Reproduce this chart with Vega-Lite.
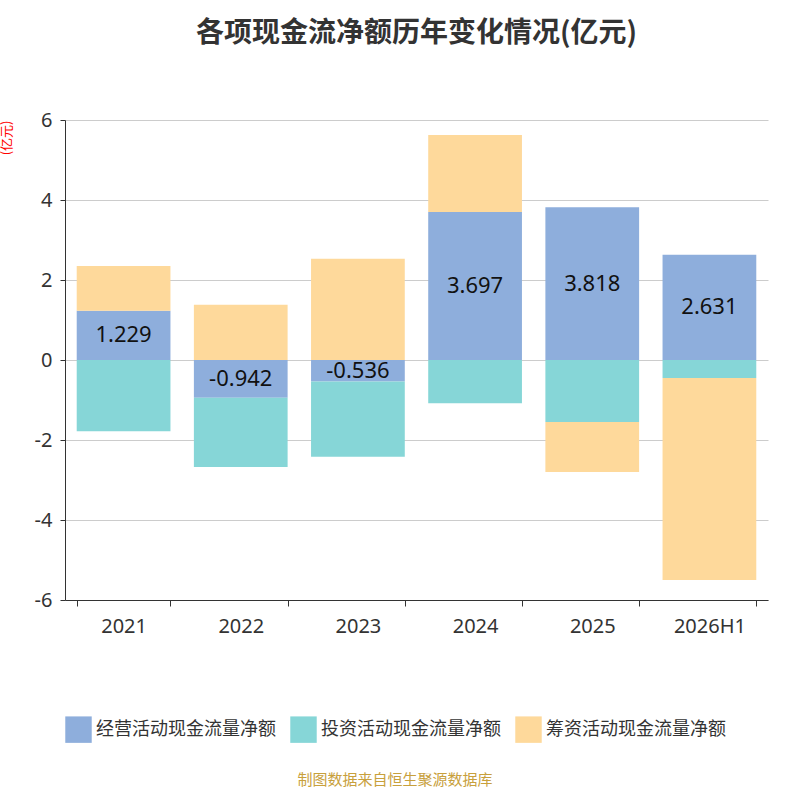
{
  "$schema": "https://vega.github.io/schema/vega-lite/v6.json",
  "autosize": "none",
  "width": 703,
  "height": 480,
  "padding": {"left": 65, "top": 120, "right": 32, "bottom": 200},
  "background": "white",
  "title": {"text": "各项现金流净额历年变化情况(亿元)", "fontSize": 28, "font": "Noto Sans CJK SC", "fontWeight": "bold", "color": "#333", "offset": 62, "anchor": "middle"},
  "config": {"font": "Noto Sans", "view": {"stroke": null}},
  "data": {"values": [
    {"year": "2021", "type": "经营活动现金流量净额", "o": 0, "value": 1.229},
    {"year": "2021", "type": "投资活动现金流量净额", "o": 1, "value": -1.78},
    {"year": "2021", "type": "筹资活动现金流量净额", "o": 2, "value": 1.12},
    {"year": "2022", "type": "经营活动现金流量净额", "o": 0, "value": -0.942},
    {"year": "2022", "type": "投资活动现金流量净额", "o": 1, "value": -1.73},
    {"year": "2022", "type": "筹资活动现金流量净额", "o": 2, "value": 1.38},
    {"year": "2023", "type": "经营活动现金流量净额", "o": 0, "value": -0.536},
    {"year": "2023", "type": "投资活动现金流量净额", "o": 1, "value": -1.88},
    {"year": "2023", "type": "筹资活动现金流量净额", "o": 2, "value": 2.53},
    {"year": "2024", "type": "经营活动现金流量净额", "o": 0, "value": 3.697},
    {"year": "2024", "type": "投资活动现金流量净额", "o": 1, "value": -1.08},
    {"year": "2024", "type": "筹资活动现金流量净额", "o": 2, "value": 1.93},
    {"year": "2025", "type": "经营活动现金流量净额", "o": 0, "value": 3.818},
    {"year": "2025", "type": "投资活动现金流量净额", "o": 1, "value": -1.55},
    {"year": "2025", "type": "筹资活动现金流量净额", "o": 2, "value": -1.25},
    {"year": "2026H1", "type": "经营活动现金流量净额", "o": 0, "value": 2.631},
    {"year": "2026H1", "type": "投资活动现金流量净额", "o": 1, "value": -0.45},
    {"year": "2026H1", "type": "筹资活动现金流量净额", "o": 2, "value": -5.05}
  ]},
  "encoding": {
    "x": {"field": "year", "type": "nominal", "sort": null, "scale": {"paddingInner": 0.2, "paddingOuter": 0.1},
      "axis": {"title": null, "labelAngle": 0, "labelFontSize": 20, "labelColor": "#333", "labelPadding": 10, "domainColor": "#333", "tickColor": "#333", "tickBand": "extent", "tickSize": 6}}
  },
  "layer": [
    {
      "mark": {"type": "bar"},
      "encoding": {
        "y": {"field": "value", "type": "quantitative", "stack": "zero",
          "scale": {"domain": [-6, 6]},
          "axis": {"values": [-6, -4, -2, 0, 2, 4, 6], "format": "d", "labelExpr": "replace(datum.label, '−', '-')", "labelFontSize": 20, "labelColor": "#333", "gridColor": "#ccc", "domainColor": "#333", "tickColor": "#333", "labelPadding": 8,
            "title": "(亿元)", "titleColor": "red", "titleFontSize": 13, "titleFontWeight": "normal", "titleAnchor": "end", "titleX": -52, "titleY": 0, "titleFont": "Noto Sans CJK SC"}},
        "order": {"field": "o"},
        "color": {"field": "type", "type": "nominal",
          "scale": {"domain": ["经营活动现金流量净额", "投资活动现金流量净额", "筹资活动现金流量净额"], "range": ["#8eaedc", "#86d6d7", "#fed99b"]},
          "legend": {"orient": "bottom", "direction": "horizontal", "title": "制图数据来自恒生聚源数据库", "titleOrient": "bottom", "titleAnchor": "middle", "titleColor": "#c8a03c", "titleFontSize": 15, "titleFontWeight": "normal", "titlePadding": 30, "titleLimit": 0, "labelLimit": 0,
            "labelFontSize": 18, "labelColor": "#333", "symbolType": "square", "symbolSize": 700, "symbolStrokeWidth": 0, "offset": 80, "columnPadding": 14, "labelFont": "Noto Sans CJK SC", "titleFont": "Noto Sans CJK SC"}}
      }
    },
    {
      "transform": [{"filter": "datum.o == 0"}, {"calculate": "datum.value / 2", "as": "mid"}, {"calculate": "replace(format(datum.value, '.3f'), '−', '-')", "as": "lbl"}],
      "mark": {"type": "text", "fontSize": 22, "color": "#111"},
      "encoding": {
        "y": {"field": "mid", "type": "quantitative"},
        "text": {"field": "lbl", "type": "nominal"}
      }
    }
  ]
}
